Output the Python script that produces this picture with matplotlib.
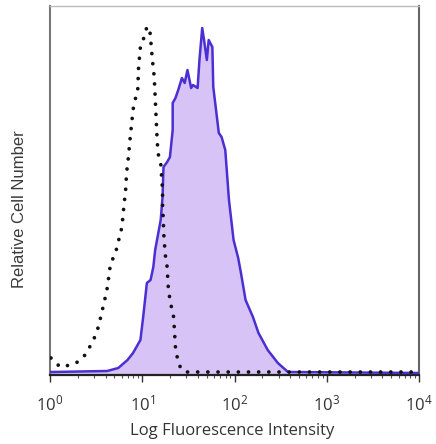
import numpy as np
import matplotlib
matplotlib.use("Agg")
import matplotlib.pyplot as plt
from matplotlib.ticker import LogLocator, NullFormatter

# Stained sample (filled histogram): log10 intensity, relative count
stained_log10 = [0.00, 0.03, 0.62, 0.74, 0.84, 0.90, 0.98, 1.01, 1.05, 1.09, 1.12, 1.14,
                 1.16, 1.20, 1.22, 1.23, 1.27, 1.30, 1.33, 1.33, 1.36, 1.39, 1.43, 1.46,
                 1.49, 1.53, 1.55, 1.60, 1.62, 1.65, 1.67, 1.70, 1.72, 1.76, 1.77, 1.83,
                 1.86, 1.90, 1.94, 1.99, 2.04, 2.07, 2.12, 2.20, 2.26, 2.36, 2.47, 2.58, 4.00]
stained_count = [3, 3, 4, 7, 15, 22, 35, 58, 92, 95, 108, 125, 135, 155, 178, 208, 213,
                 218, 245, 272, 277, 285, 297, 292, 305, 287, 290, 287, 315, 347, 335, 315,
                 335, 328, 288, 242, 238, 225, 175, 135, 117, 102, 75, 58, 42, 25, 12, 3, 2]

# Isotype control (dotted): log10 intensity, relative count
control_log10 = [0.01, 0.11, 0.22, 0.30, 0.38, 0.43, 0.48, 0.52, 0.55, 0.58, 0.61, 0.63,
                 0.64, 0.66, 0.71, 0.78, 0.80, 0.82, 0.83, 0.85, 0.87, 0.90, 0.92, 0.95,
                 0.96, 0.98, 1.01, 1.05, 1.08, 1.09, 1.11, 1.13, 1.14, 1.15, 1.16, 1.17,
                 1.20, 1.21, 1.22, 1.22, 1.23, 1.23, 1.24, 1.25, 1.27, 1.28, 1.30, 1.34,
                 1.36, 1.39, 1.43, 1.47, 1.52, 4.00]
control_count = [17, 8, 10, 13, 20, 28, 37, 47, 58, 70, 82, 92, 102, 112, 122, 148, 168,
                 185, 202, 218, 238, 265, 275, 282, 308, 328, 335, 348, 347, 337, 315,
                 298, 278, 258, 238, 222, 212, 198, 185, 165, 155, 145, 132, 120, 108,
                 90, 75, 58, 28, 12, 5, 3, 3, 3]

xticks = [1, 10, 100, 1000, 10000]
xticklabels = [r"$10^0$", r"$10^1$", r"$10^2$", r"$10^3$", r"$10^4$"]

plt.rcParams["mathtext.fontset"] = "custom"
plt.rcParams["mathtext.rm"] = "Open Sans"
plt.rcParams["mathtext.it"] = "Open Sans"

fig = plt.figure(figsize=(4.36, 4.44), dpi=100)
ax = fig.add_axes([50/436, 1-375/444, 369/436, 369/444])

xs = 10 ** np.array(stained_log10)
xc = 10 ** np.array(control_log10)

ax.fill_between(xs, 0, stained_count, color="#d7c3f5", linewidth=0, zorder=1)
ax.plot(xs, stained_count, color="#4a2fd2", linewidth=1.8, zorder=3)
ax.plot(xc, control_count, color="#111111", linewidth=2.7,
        linestyle=(0, (0.01, 2.7)), dash_capstyle="round", zorder=4)

ax.set_xscale("log")
ax.set_xlim(1, 10000)
ax.set_ylim(0, 369)
ax.set_yticks([])
ax.set_xticks(xticks)
ax.set_xticklabels(xticklabels, fontsize=12, color="#333333")
ax.xaxis.set_minor_locator(LogLocator(base=10, subs=np.arange(2, 10), numticks=20))
ax.xaxis.set_minor_formatter(NullFormatter())
ax.tick_params(axis="x", which="major", length=5, width=1.0, color="#333333", pad=9)
ax.tick_params(axis="x", which="minor", length=2.5, width=0.8, color="#555555")

ax.spines["left"].set_color("#777777")
ax.spines["left"].set_linewidth(1.5)
ax.spines["right"].set_color("#666666")
ax.spines["right"].set_linewidth(1.5)
ax.spines["top"].set_color("#bbbbbb")
ax.spines["top"].set_linewidth(1.0)
ax.spines["bottom"].set_color("#222222")
ax.spines["bottom"].set_linewidth(1.6)

fig.text(232/436, 1-431/444, "Log Fluorescence Intensity", ha="center", va="center",
         fontsize=12, color="#333333", family="Open Sans")
fig.text(19/436, 1-209/444, "Relative Cell Number", ha="center", va="center",
         rotation=90, fontsize=12, color="#3a3a3a", family="Liberation Sans")

fig.savefig("out.png", dpi=100)
